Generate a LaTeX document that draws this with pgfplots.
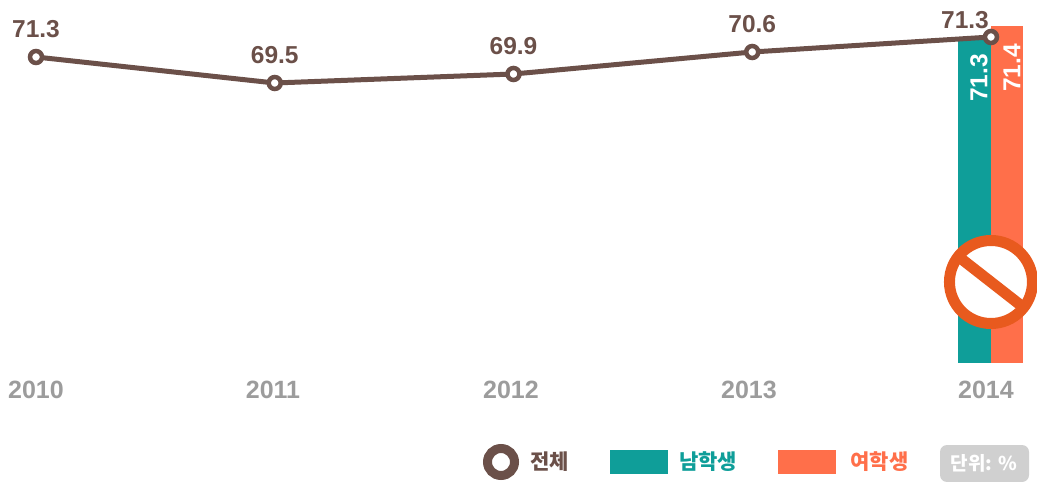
\documentclass[border=0pt]{standalone}
\usepackage{fontspec}
\usepackage{pgfplots}
\usepackage{pgfplotstable}
\pgfplotsset{compat=1.18}
\setmainfont{Liberation Sans}
\newfontfamily\kr{Noto Sans CJK KR}
\definecolor{lineb}{HTML}{6B5049}
\definecolor{teal2}{HTML}{0F9E99}
\definecolor{org}{HTML}{FF6F4A}
\definecolor{ring}{HTML}{E85A1E}
\definecolor{gr}{HTML}{9C9C9C}
\definecolor{boxg}{HTML}{D0D0D0}
% year, drawn height (the source picture does not draw to a linear scale), printed value, label offsets
\pgfplotstableread{
year h val dx dy
2010 306 71.3 0 28
2011 280 69.5 0 28
2012 289 69.9 0 28
2013 311 70.6 0 28
2014 326 71.3 -26 17
}\total
\begin{document}
\begin{tikzpicture}
\path[use as bounding box] (0,-119pt) rectangle (1037pt,363pt);
\begin{axis}[
  at={(0,0)}, anchor=south west,
  scale only axis, width=1037pt, height=363pt,
  xmin=2009.8492, xmax=2014.1927, ymin=0, ymax=363,
  clip=false,
  axis line style={draw=none},
  major tick length=0pt,
  ytick=\empty,
  xtick={2010,2010.9927,2011.9895,2012.9864,2013.979},
  xticklabels={2010,2011,2012,2013,2014},
  xticklabel style={anchor=center,yshift=-27pt,text=gr,font=\fontsize{25}{25}\selectfont\bfseries},
  nodes near coords style={anchor=center,font=\fontsize{24.5}{25}\selectfont\bfseries},
]
\addplot[ybar,bar width=32.5pt,bar shift=-16.25pt,fill=teal2,draw=none,
  point meta=explicit symbolic,
  nodes near coords,
  nodes near coords style={rotate=90,text=white,xshift=-39pt,yshift=12pt}]
  coordinates {(2014,324)[71.3]};
\addplot[ybar,bar width=32.5pt,bar shift=16.25pt,fill=org,draw=none,
  point meta=explicit symbolic,
  nodes near coords,
  nodes near coords style={rotate=90,text=white,xshift=-42pt,yshift=-21pt}]
  coordinates {(2014,337)[71.4]};
\addplot[lineb,line width=5pt,mark=*,mark size=6pt,
  mark options={fill=white,draw=lineb,line width=4.5pt},
  point meta=explicit symbolic,
  visualization depends on={\thisrow{dx} \as \dx},
  visualization depends on={\thisrow{dy} \as \dy},
  nodes near coords,
  nodes near coords style={text=lineb,xshift=\dx pt,yshift=\dy pt}]
  table[x=year,y=h,meta=val]{\total};
\draw[ring,line width=11pt,fill=white] (axis cs:2014,81) circle[radius=41.5pt];
\draw[ring,line width=11pt] (axis cs:2014,81) ++(142:41pt) -- ++(-38:82pt);
\end{axis}
% legend
\draw[lineb,line width=9pt,fill=white] (501pt,-99pt) circle[radius=13.5pt];
\node[text=lineb,font=\kr\fontsize{21}{21}\selectfont\bfseries,anchor=center] at (549.5pt,-99pt) {전체};
\fill[teal2] (610pt,-111pt) rectangle (668pt,-87pt);
\node[text=teal2,font=\kr\fontsize{21}{21}\selectfont\bfseries,anchor=center] at (708pt,-99pt) {남학생};
\fill[org] (778pt,-111pt) rectangle (836pt,-87pt);
\node[text=org,font=\kr\fontsize{21}{21}\selectfont\bfseries,anchor=center] at (879.5pt,-99pt) {여학생};
\fill[boxg,rounded corners=7pt] (940pt,-119pt) rectangle (1029pt,-82pt);
\node[text=white,font=\kr\fontsize{19}{19}\selectfont\bfseries,anchor=center] at (984pt,-100pt) {단위: \%};
\end{tikzpicture}
\end{document}
